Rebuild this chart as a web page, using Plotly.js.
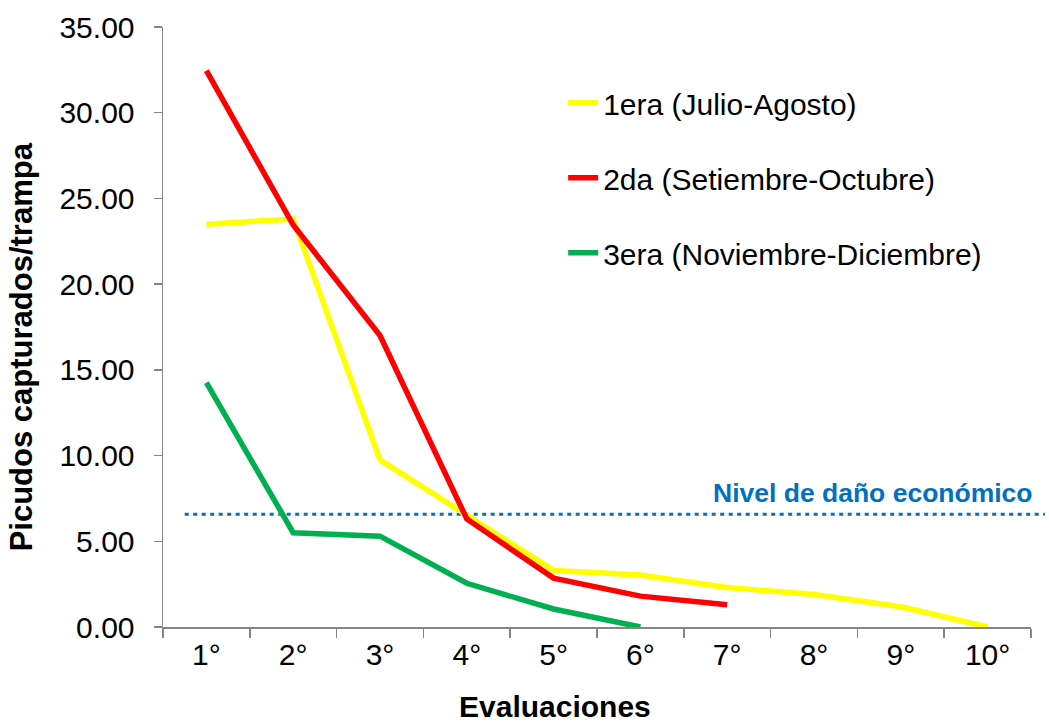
<!DOCTYPE html>
<html>
<head>
<meta charset="utf-8">
<script src="https://cdn.plot.ly/plotly-3.0.1.min.js"></script>
<style>html,body{margin:0;padding:0;background:#fff;}#chart{width:1049px;height:722px;}</style>
</head>
<body>
<div id="chart"></div>
<script>
const categories = ['1°','2°','3°','4°','5°','6°','7°','8°','9°','10°'];
const seriesNames = ['1era (Julio-Agosto)','2da (Setiembre-Octubre)','3era (Noviembre-Diciembre)'];
const primera = [23.5, 23.8, 9.75, 6.5, 3.3, 3.03, 2.3, 1.9, 1.18, 0];
const segunda = [32.45, 23.45, 17.0, 6.3, 2.85, 1.8, 1.3];
const tercera = [14.25, 5.5, 5.3, 2.55, 1.05, 0.0];
const nivelDano = 6.57;
const nivelLabel = 'Nivel de daño económico';
const xTitle = 'Evaluaciones';
const yTitle = 'Picudos capturados/trampa';
const yTicks = [0,5,10,15,20,25,30,35];

const FONT = 'Arial, "Liberation Sans", sans-serif';
const colors = ['#FFFF00','#FF0000','#00B050'];
const seriesData = [primera, segunda, tercera];

const traces = seriesData.map((vals, i) => ({
  type: 'scatter',
  mode: 'lines',
  x: categories.slice(0, vals.length),
  y: vals,
  name: seriesNames[i],
  legendgroup: 'g' + i,
  line: {color: colors[i], width: 5.5},
  hoverinfo: 'skip'
}));

const layout = {
  width: 1049, height: 722,
  margin: {l: 163, r: 18, t: 27, b: 95},
  paper_bgcolor: '#fff', plot_bgcolor: '#fff',
  font: {family: FONT, size: 30, color: '#000'},
  showlegend: true,
  legend: {
    x: 0.461, y: 0.917, xanchor: 'left', yanchor: 'top',
    bgcolor: 'rgba(0,0,0,0)',
    font: {family: FONT, size: 30, color: '#000'},
    traceorder: 'grouped', tracegroupgap: 33
  },
  xaxis: {
    type: 'category',
    categoryorder: 'array', categoryarray: categories,
    range: [-0.5, 9.5],
    tickson: 'boundaries',
    ticks: 'outside', ticklen: 9, tickwidth: 1.5, tickcolor: '#868686',
    showline: true, linecolor: '#868686', linewidth: 1.5,
    showgrid: false, zeroline: false,
    tickfont: {family: FONT, size: 30, color: '#000'}
  },
  yaxis: {
    range: [0, 35],
    tickvals: yTicks,
    tickformat: '.2f',
    ticks: 'outside', ticklen: 8, tickwidth: 1.5, tickcolor: '#868686',
    showline: true, linecolor: '#868686', linewidth: 1.5,
    showgrid: false, zeroline: false,
    ticklabelstandoff: 13,
    tickfont: {family: FONT, size: 30, color: '#000'}
  },
  shapes: [{
    type: 'line', xref: 'paper', yref: 'y',
    x0: 0.025, x1: 1.016, y0: nivelDano, y1: nivelDano,
    line: {color: '#0070C0', width: 3, dash: '4px,4.5px'},
    layer: 'below'
  }],
  annotations: [{
    xref: 'paper', yref: 'y', x: 1.005, y: nivelDano,
    xanchor: 'right', yanchor: 'middle', yshift: 21,
    text: '<b>' + nivelLabel + '</b>', showarrow: false,
    font: {family: FONT, size: 26.5, color: '#0070C0'}
  }, {
    xref: 'paper', yref: 'paper', x: 0.4516, y: -0.133,
    xanchor: 'center', yanchor: 'middle',
    text: '<b>' + xTitle + '</b>', showarrow: false,
    font: {family: FONT, size: 30, color: '#000'}
  }, {
    xref: 'paper', yref: 'paper', x: -0.162, y: 0.4667,
    xanchor: 'center', yanchor: 'middle', textangle: -90,
    text: '<b>' + yTitle + '</b>', showarrow: false,
    font: {family: FONT, size: 31, color: '#000'}
  }]
};

Plotly.newPlot('chart', traces, layout, {displayModeBar: false, staticPlot: true});
</script>
</body>
</html>
